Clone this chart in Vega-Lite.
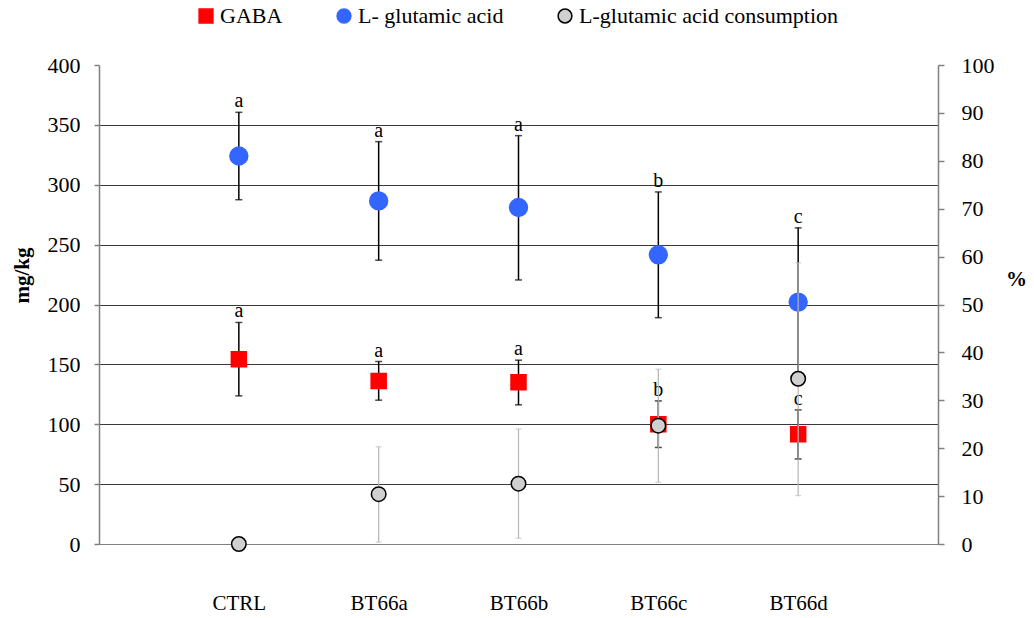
{
  "$schema": "https://vega.github.io/schema/vega-lite/v6.json",
  "width": 839,
  "height": 479,
  "padding": {"left": 11, "top": 5, "right": 5, "bottom": 0},
  "config": {
    "font": "Liberation Serif",
    "view": {"stroke": null},
    "legend": {
      "title": null, "orient": "none", "legendX": 96, "legendY": -60, "direction": "horizontal",
      "labelFont": "Liberation Serif", "labelFontSize": 22, "labelColor": "black", "labelOffset": 3, "labelLimit": 0,
      "columnPadding": 50, "symbolSize": 190, "symbolStrokeWidth": 1.5
    }
  },
  "datasets": {
    "mgkg": [
      {"g": "CTRL", "series": "GABA", "mean": 154.3, "lo": 123.7, "hi": 185, "lab": "a"},
      {"g": "BT66a", "series": "GABA", "mean": 136.2, "lo": 120.1, "hi": 152.4, "lab": "a"},
      {"g": "BT66b", "series": "GABA", "mean": 135, "lo": 116.2, "hi": 153.5, "lab": "a"},
      {"g": "BT66c", "series": "GABA", "mean": 100, "lo": 80.6, "hi": 119.5, "lab": "b"},
      {"g": "BT66d", "series": "GABA", "mean": 91.7, "lo": 71, "hi": 112, "lab": "c"},
      {"g": "CTRL", "series": "L- glutamic acid", "mean": 324, "lo": 287.5, "hi": 360.5, "lab": "a"},
      {"g": "BT66a", "series": "L- glutamic acid", "mean": 286.5, "lo": 237, "hi": 336, "lab": "a"},
      {"g": "BT66b", "series": "L- glutamic acid", "mean": 281, "lo": 220.5, "hi": 341, "lab": "a"},
      {"g": "BT66c", "series": "L- glutamic acid", "mean": 241.5, "lo": 189, "hi": 294, "lab": "b"},
      {"g": "BT66d", "series": "L- glutamic acid", "mean": 202, "lo": 140, "hi": 264, "lab": "c"}
    ],
    "pct": [
      {"g": "CTRL", "series": "L-glutamic acid consumption", "mean": 0, "lo": 0, "hi": 0},
      {"g": "BT66a", "series": "L-glutamic acid consumption", "mean": 10.4, "lo": 0.4, "hi": 20.3},
      {"g": "BT66b", "series": "L-glutamic acid consumption", "mean": 12.6, "lo": 1.2, "hi": 24.0},
      {"g": "BT66c", "series": "L-glutamic acid consumption", "mean": 24.7, "lo": 12.9, "hi": 36.5},
      {"g": "BT66d", "series": "L-glutamic acid consumption", "mean": 34.5, "lo": 10.1, "hi": 58.7}
    ]
  },
  "encoding": {
    "x": {
      "field": "g", "type": "nominal",
      "scale": {"type": "point", "padding": 1, "domain": ["CTRL", "BT66a", "BT66b", "BT66c", "BT66d"]},
      "axis": {"title": null, "ticks": false, "labelAngle": 0, "labelFont": "Liberation Serif", "labelFontSize": 21, "labelColor": "black", "labelPadding": 48, "domainColor": "#808080"}
    },
    "fill": {
      "field": "series", "type": "nominal",
      "scale": {"domain": ["GABA", "L- glutamic acid", "L-glutamic acid consumption"], "range": ["#ff0000", "#3366ff", "#d0d0d0"]}
    },
    "shape": {
      "field": "series", "type": "nominal",
      "scale": {"domain": ["GABA", "L- glutamic acid", "L-glutamic acid consumption"], "range": ["square", "circle", "circle"]}
    },
    "stroke": {
      "field": "series", "type": "nominal",
      "scale": {"domain": ["GABA", "L- glutamic acid", "L-glutamic acid consumption"], "range": ["#ff0000", "#3366ff", "#000000"]}
    }
  },
  "layer": [
    {
      "data": {"name": "mgkg"},
      "mark": {"type": "errorbar", "ticks": {"size": 7, "thickness": 1.5, "color": "black"}, "rule": {"color": "black", "strokeWidth": 1.5}},
      "encoding": {
        "y": {"field": "lo", "type": "quantitative", "scale": {"domain": [0, 400]}, "axis": null},
        "y2": {"field": "hi"},
        "fill": null, "shape": null, "stroke": null
      }
    },
    {
      "data": {"name": "mgkg"},
      "transform": [{"filter": "datum.series === 'L- glutamic acid'"}],
      "mark": {"type": "point", "filled": true, "opacity": 1, "strokeWidth": 1.5, "size": 320},
      "encoding": {
        "y": {
          "field": "mean", "type": "quantitative", "scale": {"domain": [0, 400]},
          "axis": {
            "title": "mg/kg", "orient": "left", "values": [0, 50, 100, 150, 200, 250, 300, 350, 400],
            "grid": true,
            "gridColor": {"condition": {"test": "datum.value === 400", "value": "rgba(0,0,0,0)"}, "value": "#3a3a3a"},
            "gridWidth": 1,
            "domainColor": "#808080", "domainWidth": 1.5,
            "tickColor": "#808080", "tickSize": 5, "tickWidth": 1.5,
            "labelFont": "Liberation Serif", "labelFontSize": 22, "labelColor": "black", "labelPadding": 14,
            "titleFont": "Liberation Serif", "titleFontSize": 21, "titleFontWeight": "bold", "titleColor": "black",
            "titleAngle": -90, "titleAlign": "center", "titleBaseline": "middle",
            "titleX": -77, "titleY": 210
          }
        }
      }
    },
    {
      "data": {"name": "mgkg"},
      "transform": [{"filter": "datum.series === 'GABA'"}],
      "mark": {"type": "point", "filled": true, "opacity": 1, "strokeWidth": 1.5, "size": 225},
      "encoding": {
        "y": {"field": "mean", "type": "quantitative", "scale": {"domain": [0, 400]}, "axis": null}
      }
    },
    {
      "data": {"name": "mgkg"},
      "mark": {"type": "text", "baseline": "alphabetic", "align": "center", "dy": -5, "fontSize": 20, "font": "Liberation Serif", "color": "black"},
      "encoding": {
        "y": {"field": "hi", "type": "quantitative", "scale": {"domain": [0, 400]}, "axis": null},
        "text": {"field": "lab"},
        "fill": null, "shape": null, "stroke": null
      }
    },
    {
      "data": {"name": "pct"},
      "mark": {"type": "errorbar", "ticks": {"size": 6, "thickness": 1.2, "color": "#bdbdbd"}, "rule": {"color": "#b5b5b5", "strokeWidth": 1.2}},
      "encoding": {
        "y": {"field": "lo", "type": "quantitative", "scale": {"domain": [0, 100]}, "axis": null},
        "y2": {"field": "hi"},
        "fill": null, "shape": null, "stroke": null
      }
    },
    {
      "data": {"name": "pct"},
      "mark": {"type": "point", "filled": true, "opacity": 1, "strokeWidth": 1.5, "size": 210},
      "encoding": {
        "y": {
          "field": "mean", "type": "quantitative", "scale": {"domain": [0, 100]},
          "axis": {
            "title": "%", "orient": "right", "values": [0, 10, 20, 30, 40, 50, 60, 70, 80, 90, 100],
            "grid": false,
            "domainColor": "#808080", "domainWidth": 1.5,
            "tickColor": "#808080", "tickSize": 6, "tickWidth": 1.5,
            "labelFont": "Liberation Serif", "labelFontSize": 22, "labelColor": "black", "labelPadding": 17,
            "titleFont": "Liberation Serif", "titleFontSize": 21, "titleFontWeight": "bold", "titleColor": "black",
            "titleAngle": 0, "titleAlign": "center", "titleBaseline": "middle",
            "titleX": 78, "titleY": 214
          }
        }
      }
    }
  ],
  "resolve": {"scale": {"y": "independent"}}
}
